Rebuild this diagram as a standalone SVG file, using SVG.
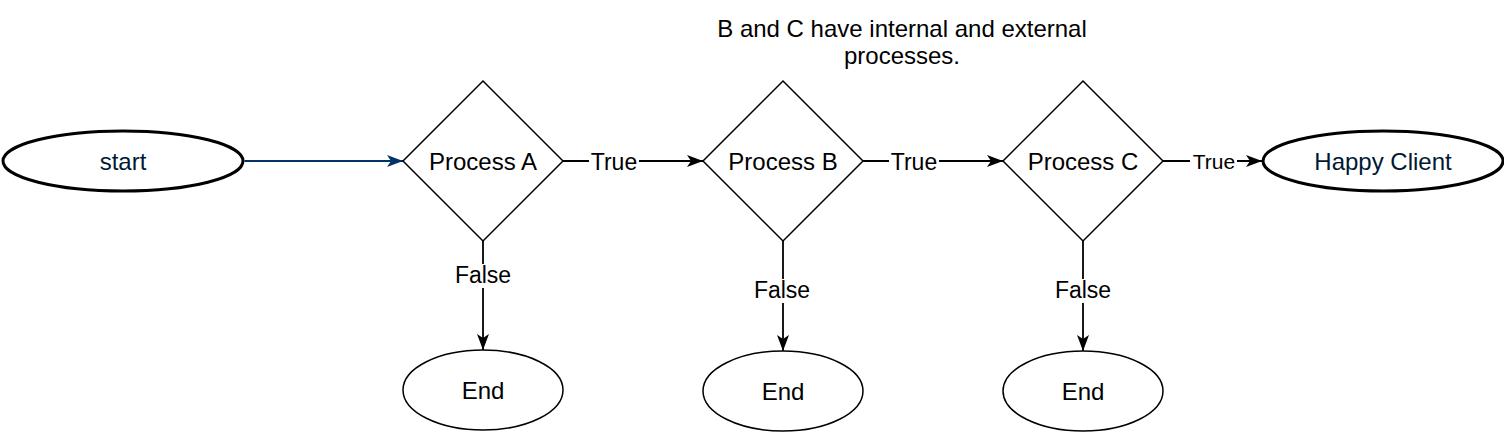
<svg xmlns="http://www.w3.org/2000/svg" width="1504" height="432" viewBox="0 0 1504 432">
<style>
text{font-family:"Liberation Sans",Arial,sans-serif;text-anchor:middle;fill:#000}
.n{font-size:24px}
.l{font-size:23px}
.s{font-size:21px}
.shape{fill:#fff;stroke:#000;stroke-width:1.5}
.thick{fill:#fff;stroke:#000;stroke-width:3}
.e{fill:none;stroke:#000;stroke-width:1.8}
.blue{fill:#001933}
.bg{fill:#fff}
</style>
<defs>
<marker id="ar" viewBox="0 0 16 12" refX="16" refY="6" markerWidth="16" markerHeight="12" markerUnits="userSpaceOnUse" orient="auto">
<path d="M0,0 L16,6 L0,12 L4,6 Z" fill="#000"/>
</marker>
<marker id="arb" viewBox="0 0 16 12" refX="16" refY="6" markerWidth="16" markerHeight="12" markerUnits="userSpaceOnUse" orient="auto">
<path d="M0,0 L16,6 L0,12 L4,6 Z" fill="#003366"/>
</marker>
</defs>
<g id="connectors">
<line x1="244.5" y1="161" x2="403" y2="161" stroke="#003366" stroke-width="1.8" marker-end="url(#arb)"/>
<line x1="563" y1="161" x2="703" y2="161" class="e" marker-end="url(#ar)"/>
<line x1="863" y1="161" x2="1003" y2="161" class="e" marker-end="url(#ar)"/>
<line x1="1163" y1="161" x2="1262" y2="161" class="e" marker-end="url(#ar)"/>
<line x1="483" y1="241" x2="483" y2="350" class="e" marker-end="url(#ar)"/>
<line x1="783" y1="241" x2="783" y2="351" class="e" marker-end="url(#ar)"/>
<line x1="1083" y1="241" x2="1083" y2="351" class="e" marker-end="url(#ar)"/>
<rect class="bg" x="589" y="150" width="50" height="22"/>
<text class="l" x="614" y="169.5">True</text>
<rect class="bg" x="889" y="150" width="50" height="22"/>
<text class="l" x="914" y="169.5">True</text>
<rect class="bg" x="1190" y="150" width="47" height="22"/>
<text class="s" x="1214" y="168.5">True</text>
<rect class="bg" x="450" y="264" width="66" height="24"/>
<text class="l" x="483" y="283">False</text>
<rect class="bg" x="750" y="279" width="66" height="24"/>
<text class="l" x="782" y="298">False</text>
<rect class="bg" x="1050" y="279" width="66" height="24"/>
<text class="l" x="1083" y="298">False</text>
</g>
<g id="title">
<text class="n" x="902" y="37">B and C have internal and external</text>
<text class="n" x="902" y="64">processes.</text>
</g>
<g id="start">
<ellipse class="thick" cx="123" cy="161" rx="120" ry="30"/>
<text class="n blue" x="123" y="169.5">start</text>
</g>
<g id="processA">
<polygon class="shape" points="483,81 563,161 483,241 403,161"/>
<text class="n" x="483" y="169.5">Process A</text>
</g>
<g id="processB">
<polygon class="shape" points="783,81 863,161 783,241 703,161"/>
<text class="n" x="783" y="169.5">Process B</text>
</g>
<g id="processC">
<polygon class="shape" points="1083,81 1163,161 1083,241 1003,161"/>
<text class="n" x="1083" y="169.5">Process C</text>
</g>
<g id="happyClient">
<ellipse class="thick" cx="1383" cy="161" rx="120" ry="30"/>
<text class="n blue" x="1383" y="169.5">Happy Client</text>
</g>
<g id="endA">
<ellipse class="shape" cx="483" cy="390" rx="80" ry="40"/>
<text class="n" x="483" y="398.5">End</text>
</g>
<g id="endB">
<ellipse class="shape" cx="783" cy="391" rx="80" ry="40"/>
<text class="n" x="783" y="399.5">End</text>
</g>
<g id="endC">
<ellipse class="shape" cx="1083" cy="391" rx="80" ry="40"/>
<text class="n" x="1083" y="399.5">End</text>
</g>
</svg>
